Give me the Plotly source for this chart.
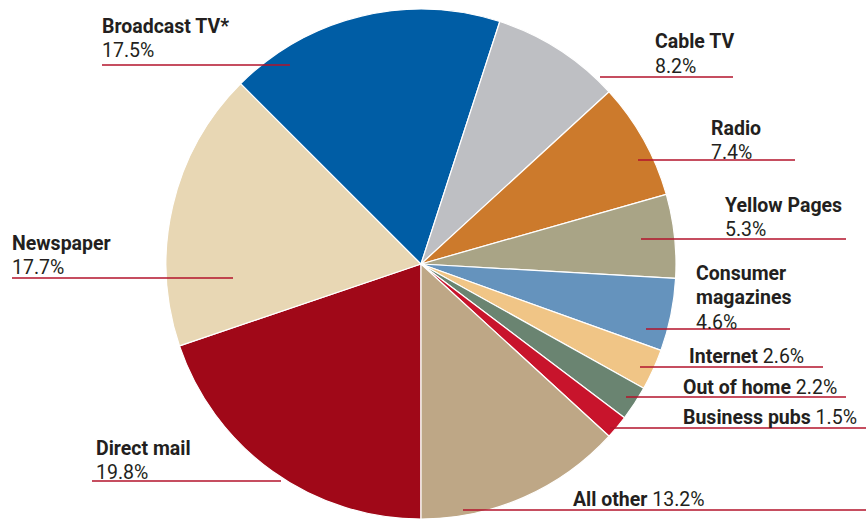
import plotly.graph_objects as go

# ---- data ----
categories = ["All other", "Business pubs", "Out of home", "Internet", "Consumer magazines",
              "Yellow Pages", "Radio", "Cable TV", "Broadcast TV*", "Newspaper", "Direct mail"]
values = [13.2, 1.5, 2.2, 2.6, 4.6, 5.3, 7.4, 8.2, 17.5, 17.7, 19.8]
colors = ["#BEA786", "#C8142C", "#6A8471", "#F0C586", "#6593BD", "#A9A486",
          "#CC7A2C", "#BEBFC3", "#005DA5", "#E8D7B4", "#A00818"]

# ---- label layout (pixels in 866x519 canvas) ----
label_layout = {
    "Broadcast TV*":      dict(names=["Broadcast TV*"], inline=False, x=102, y=24, ly=65, lx0=102, lx1=290),
    "Cable TV":           dict(names=["Cable TV"], inline=False, x=655, y=40, ly=77, lx0=600, lx1=733),
    "Radio":              dict(names=["Radio"], inline=False, x=711, y=126, ly=160, lx0=638, lx1=795),
    "Yellow Pages":       dict(names=["Yellow Pages"], inline=False, x=725, y=203, ly=239, lx0=641, lx1=846),
    "Consumer magazines": dict(names=["Consumer", "magazines"], inline=False, x=696, y=271, ly=329, lx0=646, lx1=790),
    "Internet":           dict(names=["Internet"], inline=True, x=689, y=354, ly=367, lx0=640, lx1=823),
    "Out of home":        dict(names=["Out of home"], inline=True, x=683, y=385, ly=397, lx0=626, lx1=846),
    "Business pubs":      dict(names=["Business pubs"], inline=True, x=683, y=415, ly=428, lx0=610, lx1=866),
    "All other":          dict(names=["All other"], inline=True, x=573, y=497, ly=510, lx0=463, lx1=866),
    "Direct mail":        dict(names=["Direct mail"], inline=False, x=96, y=446, ly=481, lx0=92, lx1=281),
    "Newspaper":          dict(names=["Newspaper"], inline=False, x=12, y=241, ly=278, lx0=12, lx1=233),
}

W, H = 866, 519
cx, cy, R = 421, 265, 256
LINE_H = 24.5
TEXT_PAD = 2   # annotation box padding
Y_SHIFT = 2    # visual cap-centre correction
FONT = "Roboto, sans-serif"
FSIZE = 19.5
TXT = "#231F20"
LINE_COL = "#B3132B"

def px(x):
    return x / W

def py(y):
    return 1 - y / H

# slices run counter-clockwise from 6 o'clock: draw reversed list clockwise
fig = go.Figure(go.Pie(
    labels=categories[::-1],
    values=values[::-1],
    sort=False,
    direction="clockwise",
    rotation=180,
    marker=dict(colors=colors[::-1], line=dict(color="white", width=1.2)),
    textinfo="none",
    hoverinfo="label+percent",
    showlegend=False,
    domain=dict(x=[px(cx - R), px(cx + R)], y=[max(0, py(cy + R)), py(cy - R)]),
))

annotations = []
shapes = []
for cat, val in zip(categories, values):
    L = label_layout[cat]
    y = L["y"] + Y_SHIFT
    tx = px(L["x"] - TEXT_PAD)
    if L["inline"]:
        annotations.append(dict(
            x=tx, y=py(y), xref="paper", yref="paper", xanchor="left", yanchor="middle",
            text=f"<b>{L['names'][0]}</b> {val}%", showarrow=False,
            font=dict(family=FONT, size=FSIZE, color=TXT)))
    else:
        for nm in L["names"]:
            annotations.append(dict(
                x=tx, y=py(y), xref="paper", yref="paper", xanchor="left", yanchor="middle",
                text=f"<b>{nm}</b>", showarrow=False,
                font=dict(family=FONT, size=FSIZE, color=TXT)))
            y += LINE_H
        annotations.append(dict(
            x=tx, y=py(y), xref="paper", yref="paper", xanchor="left", yanchor="middle",
            text=f"{val}%", showarrow=False,
            font=dict(family=FONT, size=FSIZE, color=TXT)))
    shapes.append(dict(type="line", xref="paper", yref="paper",
                       x0=px(L["lx0"]), x1=px(L["lx1"]), y0=py(L["ly"]), y1=py(L["ly"]),
                       line=dict(color=LINE_COL, width=1.5)))

fig.update_layout(
    width=W, height=H,
    margin=dict(l=0, r=0, t=0, b=0),
    paper_bgcolor="white", plot_bgcolor="white",
    annotations=annotations, shapes=shapes,
)

fig.write_html("out.html", config={"displayModeBar": False},
               post_script="document.body.style.margin='0';document.body.style.overflow='hidden';")
